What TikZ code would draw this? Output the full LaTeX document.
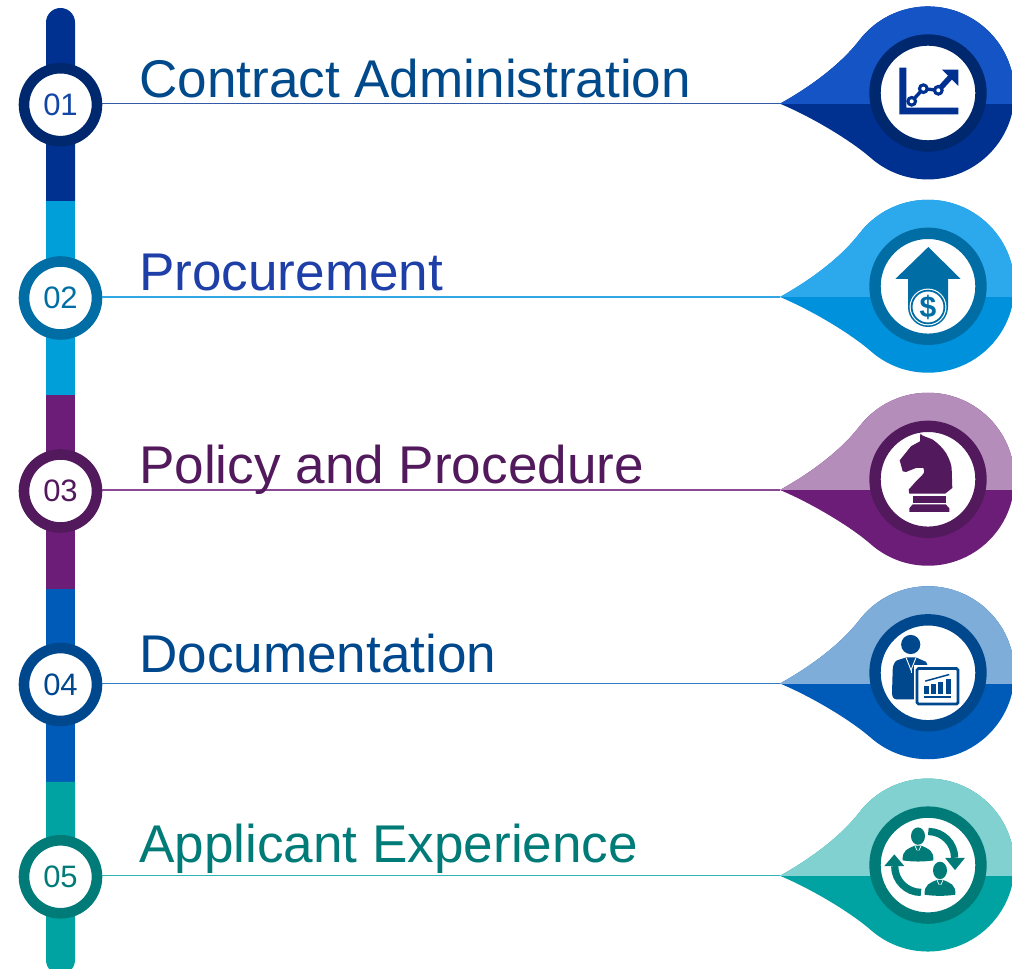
\documentclass[tikz,border=0pt]{standalone}
\usepackage{fontspec}
\setmainfont[Kerning=Off]{Liberation Sans}
\definecolor{light1}{HTML}{1454C4}
\definecolor{dark1}{HTML}{003090}
\definecolor{ring1}{HTML}{00286E}
\definecolor{bar1}{HTML}{003090}
\definecolor{text1}{HTML}{004A8C}
\definecolor{digit1}{HTML}{1246A6}
\definecolor{light2}{HTML}{2BA9EC}
\definecolor{dark2}{HTML}{0091DC}
\definecolor{ring2}{HTML}{006EA5}
\definecolor{bar2}{HTML}{009FDA}
\definecolor{text2}{HTML}{1F3FA8}
\definecolor{digit2}{HTML}{006EA5}
\definecolor{light3}{HTML}{B48DBA}
\definecolor{dark3}{HTML}{6C1D78}
\definecolor{ring3}{HTML}{521A5C}
\definecolor{bar3}{HTML}{6C1D78}
\definecolor{text3}{HTML}{521A5C}
\definecolor{digit3}{HTML}{521A5C}
\definecolor{light4}{HTML}{7FADD9}
\definecolor{dark4}{HTML}{005BB8}
\definecolor{ring4}{HTML}{00488E}
\definecolor{bar4}{HTML}{005BB8}
\definecolor{text4}{HTML}{00488E}
\definecolor{digit4}{HTML}{00488E}
\definecolor{light5}{HTML}{80D1CF}
\definecolor{dark5}{HTML}{00A3A1}
\definecolor{ring5}{HTML}{007B78}
\definecolor{bar5}{HTML}{00A3A1}
\definecolor{text5}{HTML}{007B78}
\definecolor{digit5}{HTML}{007B78}
\newcommand{\pinpath}{(-148,-10.7) .. controls (-117,6.5) and (-87,29) .. (-68.7,52.7)
  arc[start angle=142.5,end angle=-131,radius=86.5]
  .. controls (-77.8,-46.9) and (-117,-23.7) .. (-148,-10.7) -- cycle}
\tikzset{
  pin/.pic={
    \fill[dark\n] \pinpath;
    \begin{scope}
      \clip (-160,-10.7) rectangle (100,100);
      \fill[light\n] \pinpath;
    \end{scope}
    \draw[ring\n, line width=11.4pt, fill=white] (0,0) circle [radius=53];
  },
  chart/.pic={
    \fill[dark1] (-28.7,25.3) -- (-21.7,25.3) -- (-21.7,-14.7) -- (30.3,-14.7) -- (30.3,-21.3) -- (-28.7,-21.3) -- cycle;
    \draw[dark1, line width=3.4pt] (-16.3,-8.3) -- (-4.7,4.3) -- (10.3,2.7);
    \draw[dark1, line width=5.5pt] (10.3,2.7) -- (25,18.7);
    \fill[dark1] (14,23.3) -- (30.3,23.3) -- (30.3,7) -- cycle;
    \foreach \p in {(-16.3,-8.3),(-4.7,4.3),(10.3,2.7)} {
      \fill[dark1] \p circle [radius=5.5];
      \fill[white] \p circle [radius=2];
    }
  },
  uparrow/.pic={
    \fill[ring2] (0.3,39.3) -- (32.7,7.3) -- (20,7.3) -- (20,-20.7) arc [start angle=0,end angle=-180,radius=20] -- (-20,7.3) -- (-32.7,7.3) -- cycle;
    \fill[white] (0,-20.7) circle [radius=18.4];
    \draw[ring2, line width=1.8pt] (0,-20.7) circle [radius=16.4];
    \node[ring2, inner sep=0, font=\fontsize{30}{30}\selectfont\bfseries] (dollar) at (0,-20.7) {\$};
  },
  knight/.pic={
    \fill[ring3] (-7.7,45.7) .. controls (-6,43) and (0,42) .. (4.7,39.7)
      .. controls (10,36) and (15,31) .. (18,26.3) .. controls (22,19) and (23.7,14) .. (23.7,9.7)
      -- (24.3,-8.7) -- (17.3,-14.3) -- (-18.7,-14.3) -- (-19.3,-10.3) -- (-12,-2)
      .. controls (-8,2) and (-4,5) .. (-3.7,8) -- (-4.7,11.3) -- (-12,11.3) -- (-22,7.3) -- (-25.3,8)
      -- (-28.3,19) -- (-17,33) -- (-8,38) -- cycle;
    \fill[ring3] (-15.3,-17) rectangle (18,-23.7);
    \fill[ring3] (-15.3,-25) -- (17.7,-25) -- (21.3,-29) -- (21.3,-32.7) -- (-18.7,-32.7) -- (-18.7,-29) -- cycle;
  },
  presenter/.pic={
    \fill[ring4] (-17.3,28.3) circle [radius=9.6];
    \fill[ring4] (-30,-26.7) .. controls (-34,-26.7) and (-36,-25) .. (-36,-20) -- (-35.3,3)
      .. controls (-35,10) and (-32,12) .. (-30.3,12.7) -- (-22,15.3)
      -- (-12,15.3) -- (-2,11) -- (2,2) -- (-13.7,-26.7) -- cycle;
    \draw[white, line width=.9pt] (-22,15.3) -- (-17,2.7) -- (-12,15.3);
    \draw[white, line width=.9pt] (-17,2.7) -- (-17,0);
    \draw[white, line width=2pt, fill=white] (-13,6.3) rectangle (32,-33.3);
    \draw[ring4, line width=2.7pt, fill=white, rounded corners=1.5pt] (-11,4.3) rectangle (30,-31.3);
    \foreach \a/\b/\h in {-3.7/.7/-13.3,3/8/-11.3,10.3/15.3/-9,18/23/-6.3} {
      \fill[ring4] (\a,-21.3) rectangle (\b,\h);
    }
    \fill[ring4] (-3.7,-23.3) rectangle (23,-25);
    \draw[ring4, line width=1.5pt] (-2.7,-8.3) -- (21.3,-1.7);
  },
  person/.pic={
    \fill[ring5] (0,0) ellipse [x radius=7, y radius=8.7];
    \fill[ring5] (-15.3,-24.3) .. controls (-16,-14) and (-10,-12.5) .. (-3,-9.5) -- (3,-9.5)
      .. controls (10,-12.5) and (16,-14) .. (15.3,-24.3) .. controls (5,-25.8) and (-5,-25.8) .. (-15.3,-24.3) -- cycle;
    \draw[white, line width=.7pt] (-3,-9.8) -- (-.8,-14.5) (3,-9.8) -- (.8,-14.5);
  },
  cycle arrows/.pic={
    \pic at (-10,29) {person};
    \pic at (12,-5.3) {person};
    \draw[ring5, line width=7.3pt] (0.3,33.6) arc [start angle=90,end angle=0,radius=26.3];
    \fill[ring5] (27,-5) -- (17,7.3) -- (37,7.3) -- cycle;
    \draw[ring5, line width=7.3pt] (-7,-27.3) arc [start angle=270,end angle=180,radius=26.3];
    \fill[ring5] (-33.7,10.7) -- (-43.7,-1) -- (-23.7,-1) -- cycle;
  }
}
\begin{document}
\begin{tikzpicture}[x=1pt,y=1pt]
  \clip (0,0) rectangle (1012,969);

  \fill[bar1] (46,768) -- (46,946.5) arc [start angle=180,end angle=0,radius=14.5] -- (75,768) -- cycle;
  \fill[bar2] (46,574) rectangle (75,768);
  \fill[bar3] (46,380) rectangle (75,574);
  \fill[bar4] (46,187) rectangle (75,380);
  \fill[bar5] (46,187) -- (46,9) arc [start angle=180,end angle=360,radius=14.5] -- (75,187) -- cycle;

  \foreach \n/\y/\base/\icon/\name in {
    1/865.3/871/chart/Contract Administration,
    2/672/678/uparrow/Procurement,
    3/479/485/knight/Policy and Procedure,
    4/285.5/296/presenter/Documentation,
    5/93.2/106/cycle arrows/Applicant Experience} {
    \node[circle, fill=white, draw=ring\n, line width=10.6pt, minimum size=73pt, inner sep=0pt,
      text=digit\n, font=\fontsize{31}{31}\selectfont] (num\n) at (60.5,\y-1) {0\n};
    \coordinate (tip\n) at (780,\y);
    \draw[dark\n!80!white, line width=1.2pt] (num\n.east |- tip\n) -- (tip\n);
    \pic at (928,\y+10.7) {pin};
    \pic at (928,\y+10.7) {\icon};
    \node[anchor=base west, inner sep=0pt, text=text\n, font=\fontsize{53.1}{60}\selectfont] (label\n) at (139,\base) {\name};
  }
\end{tikzpicture}
\end{document}
